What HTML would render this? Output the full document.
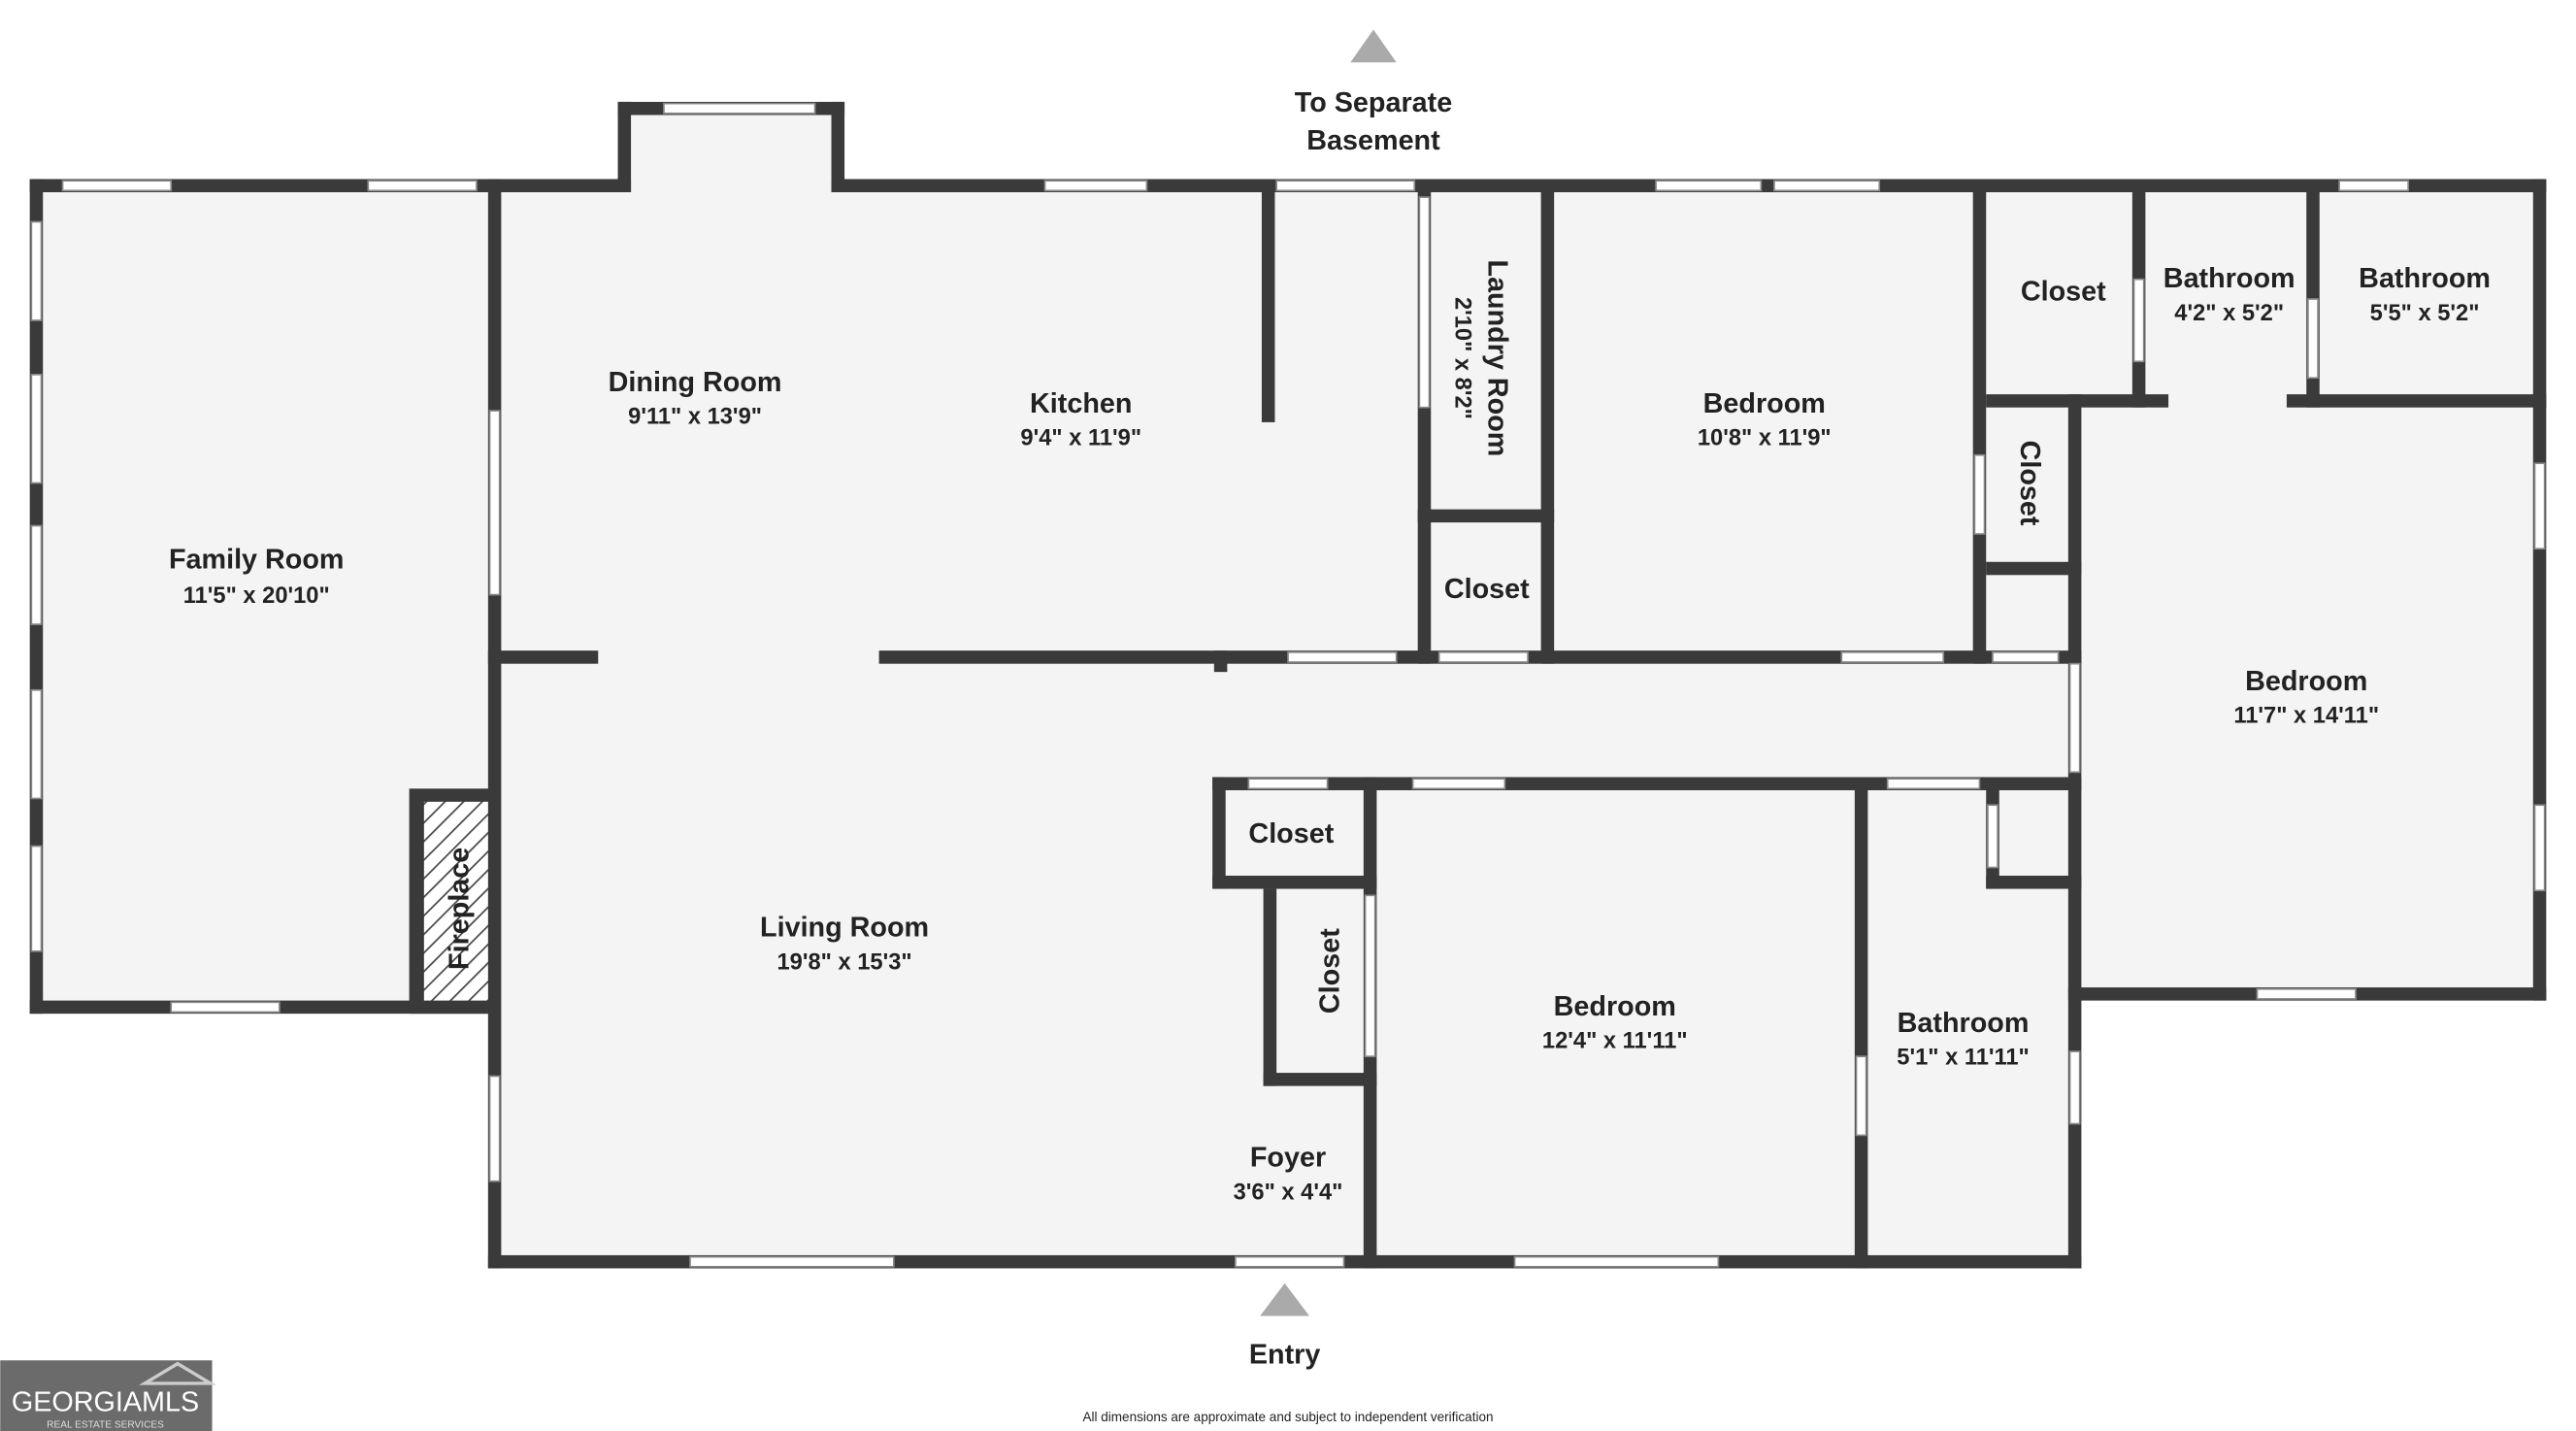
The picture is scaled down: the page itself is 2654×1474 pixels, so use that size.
<!DOCTYPE html>
<html><head><meta charset="utf-8"><style>
html,body{margin:0;padding:0;background:#fff}
svg{display:block}
text{font-family:"Liberation Sans","DejaVu Sans",sans-serif;font-weight:bold;fill:#222;text-anchor:middle}
.n{font-size:17px}.d{font-size:14px}
</style></head><body>
<svg width="2654" height="1474" viewBox="0 0 1568 871" xmlns="http://www.w3.org/2000/svg">
<defs><pattern id="h" width="8" height="8" patternUnits="userSpaceOnUse" patternTransform="rotate(45)"><rect width="8" height="8" fill="#fff"/><line x1="0" y1="0" x2="0" y2="8" stroke="#444" stroke-width="2"/></pattern></defs>
<!-- floors -->
<g fill="#f4f4f4">
<rect x="18" y="109" width="282" height="508"/>
<rect x="297" y="109" width="970" height="663"/>
<rect x="376" y="62" width="138" height="55"/>
<rect x="1259" y="109" width="291" height="500"/>
<rect x="1201" y="109" width="66" height="140"/>
</g>
<g fill="#3a3a3a">
<!-- outer -->
<rect x="18" y="109" width="366" height="8"/>
<rect x="506" y="109" width="1044" height="8"/>
<rect x="376" y="62" width="138" height="8"/>
<rect x="376" y="62" width="8" height="55"/>
<rect x="506" y="62" width="8" height="55"/>
<rect x="18" y="109" width="8" height="508"/>
<rect x="18" y="609" width="282" height="8"/>
<rect x="297" y="109" width="8" height="663"/>
<rect x="297" y="764" width="970" height="8"/>
<rect x="1542" y="109" width="8" height="500"/>
<rect x="1259" y="601" width="291" height="8"/>
<rect x="1259" y="240" width="8" height="532"/>
<!-- interior -->
<rect x="297" y="396" width="67" height="8"/>
<rect x="535" y="396" width="732" height="8"/>
<rect x="768" y="117" width="8" height="140"/>
<rect x="863" y="117" width="8" height="287"/>
<rect x="938" y="117" width="8" height="287"/>
<rect x="863" y="310" width="83" height="8"/>
<rect x="1201" y="117" width="8" height="287"/>
<rect x="1209" y="240" width="111" height="8"/>
<rect x="1392" y="240" width="158" height="8"/>
<rect x="1298" y="117" width="8" height="131"/>
<rect x="1404" y="117" width="8" height="131"/>
<rect x="1209" y="342" width="58" height="8"/>
<rect x="738" y="473" width="529" height="8"/>
<rect x="738" y="473" width="8" height="68"/>
<rect x="738" y="533" width="100" height="8"/>
<rect x="769" y="541" width="8" height="120"/>
<rect x="769" y="653" width="69" height="8"/>
<rect x="830" y="473" width="8" height="299"/>
<rect x="1129" y="481" width="8" height="291"/>
<rect x="1209" y="481" width="8" height="60"/>
<rect x="1209" y="533" width="58" height="8"/>
<rect x="249" y="480" width="51" height="137"/>
<rect x="739" y="396" width="8" height="13"/>
</g>
<rect x="258" y="488" width="39" height="121" fill="url(#h)"/>
<!-- openings / windows -->
<g fill="#fff" stroke="#888" stroke-width="1">
<rect x="38" y="110" width="66" height="6"/>
<rect x="224" y="110" width="66" height="6"/>
<rect x="404" y="63" width="92" height="6"/>
<rect x="636" y="110" width="62" height="6"/>
<rect x="777" y="110" width="84" height="6"/>
<rect x="1008" y="110" width="64" height="6"/>
<rect x="1080" y="110" width="64" height="6"/>
<rect x="1424" y="110" width="42" height="6"/>
<rect x="19" y="135" width="6" height="60"/>
<rect x="19" y="228" width="6" height="66"/>
<rect x="19" y="320" width="6" height="60"/>
<rect x="19" y="420" width="6" height="66"/>
<rect x="19" y="515" width="6" height="64"/>
<rect x="104" y="610" width="66" height="6"/>
<rect x="298" y="250" width="6" height="112"/>
<rect x="298" y="655" width="6" height="64"/>
<rect x="420" y="765" width="124" height="6"/>
<rect x="752" y="765" width="66" height="6"/>
<rect x="922" y="765" width="124" height="6"/>
<rect x="864" y="120" width="6" height="128"/>
<rect x="784" y="397" width="66" height="6"/>
<rect x="876" y="397" width="54" height="6"/>
<rect x="1121" y="397" width="62" height="6"/>
<rect x="1213" y="397" width="40" height="6"/>
<rect x="1202" y="277" width="6" height="48"/>
<rect x="1299" y="170" width="6" height="50"/>
<rect x="1405" y="182" width="6" height="48"/>
<rect x="1260" y="404" width="6" height="66"/>
<rect x="760" y="474" width="48" height="6"/>
<rect x="860" y="474" width="56" height="6"/>
<rect x="1149" y="474" width="56" height="6"/>
<rect x="831" y="545" width="6" height="98"/>
<rect x="1210" y="490" width="6" height="38"/>
<rect x="1130" y="643" width="6" height="48"/>
<rect x="1260" y="640" width="6" height="44"/>
<rect x="1543" y="282" width="6" height="52"/>
<rect x="1543" y="490" width="6" height="52"/>
<rect x="1374" y="602" width="60" height="6"/>
</g>
<!-- arrows -->
<polygon points="822,38 836,18 850,38" fill="#aaa"/>
<polygon points="767,801 782,781 797,801" fill="#aaa"/>
<text class="n" x="836" y="68">To Separate</text>
<text class="n" x="836" y="91">Basement</text>
<text class="n" x="782" y="830">Entry</text>
<!-- labels -->
<text class="n" x="156" y="346">Family Room</text><text class="d" x="156" y="367">11'5" x 20'10"</text>
<text class="n" x="423" y="238">Dining Room</text><text class="d" x="423" y="258">9'11" x 13'9"</text>
<text class="n" x="658" y="251">Kitchen</text><text class="d" x="658" y="271">9'4" x 11'9"</text>
<text class="n" x="1074" y="251">Bedroom</text><text class="d" x="1074" y="271">10'8" x 11'9"</text>
<text class="n" x="1256" y="183">Closet</text>
<text class="n" x="1357" y="175">Bathroom</text><text class="d" x="1357" y="195">4'2" x 5'2"</text>
<text class="n" x="1476" y="175">Bathroom</text><text class="d" x="1476" y="195">5'5" x 5'2"</text>
<text class="n" x="905" y="364">Closet</text>
<text class="n" x="1404" y="420">Bedroom</text><text class="d" x="1404" y="440">11'7" x 14'11"</text>
<text class="n" x="786" y="513">Closet</text>
<text class="n" x="514" y="570">Living Room</text><text class="d" x="514" y="590">19'8" x 15'3"</text>
<text class="n" x="983" y="618">Bedroom</text><text class="d" x="983" y="638">12'4" x 11'11"</text>
<text class="n" x="1195" y="628">Bathroom</text><text class="d" x="1195" y="648">5'1" x 11'11"</text>
<text class="n" x="784" y="710">Foyer</text><text class="d" x="784" y="730">3'6" x 4'4"</text>
<text class="n" transform="translate(906,218) rotate(90)">Laundry Room</text>
<text class="d" transform="translate(886,218) rotate(90)">2'10" x 8'2"</text>
<text class="n" transform="translate(1230,294) rotate(90)">Closet</text>
<text class="n" transform="translate(815,591) rotate(-90)">Closet</text>
<text class="n" transform="translate(285,553) rotate(-90)">Fireplace</text>
<text x="784" y="865" style="font-size:8px;font-weight:normal">All dimensions are approximate and subject to independent verification</text>
<!-- logo -->
<rect x="0" y="828" width="129" height="43" fill="#6b6b6b"/>
<polygon points="88,842 108,830 128,842" fill="none" stroke="#ccc" stroke-width="2"/>
<text x="64" y="859" style="font-size:17px;font-weight:normal;fill:#fff">GEORGIAMLS</text>
<text x="64" y="869" style="font-size:6px;font-weight:normal;fill:#ddd">REAL ESTATE SERVICES</text>
</svg>
</body></html>
